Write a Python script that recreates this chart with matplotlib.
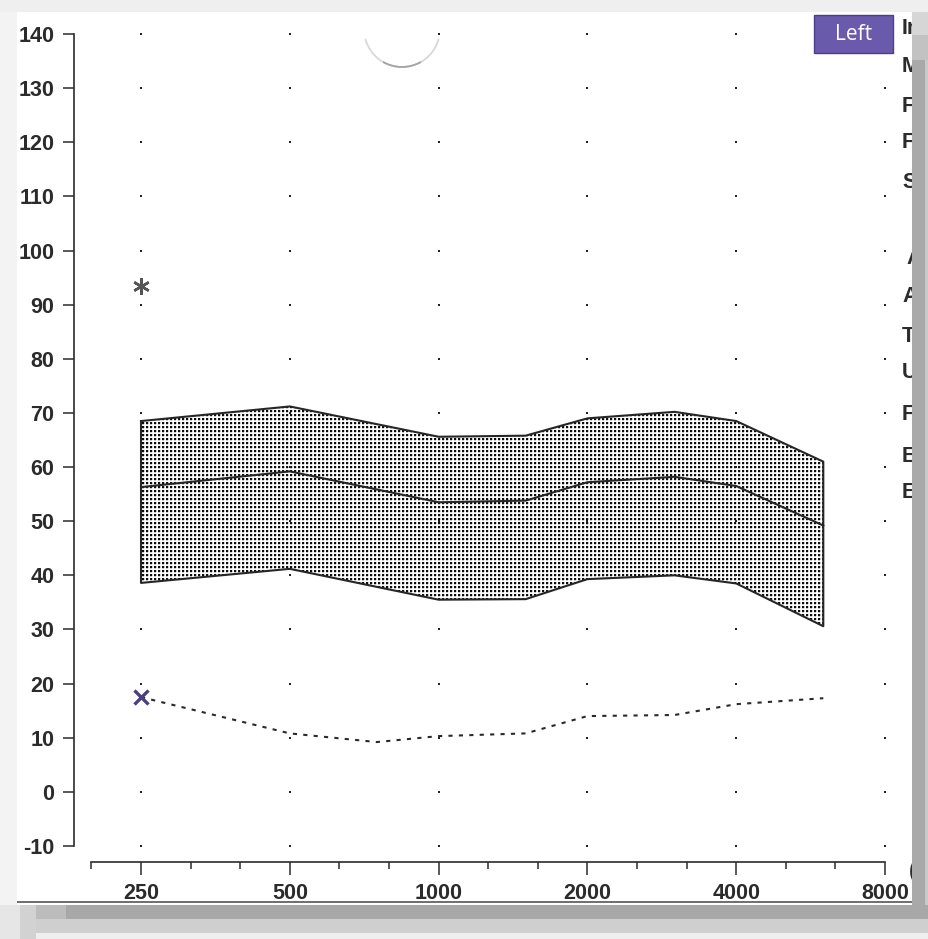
import numpy as np
import matplotlib
matplotlib.use('Agg')
import matplotlib.pyplot as plt
from matplotlib.patches import Rectangle, Arc
from matplotlib.lines import Line2D

# normal range band (dB HL) and mean
band_freqs = np.array([250, 500, 1000, 1500, 2000, 3000, 4000, 6000])
band_upper = np.array([68.5, 71.2, 65.6, 65.8, 69.0, 70.2, 68.5, 61.0])
band_mean = np.array([56.3, 59.2, 53.5, 53.8, 57.2, 58.2, 56.5, 49.2])
band_lower = np.array([38.6, 41.2, 35.5, 35.6, 39.3, 40.0, 38.5, 30.6])

# measured threshold curve
thr_freqs = np.array([250, 500, 750, 1000, 1500, 2000, 3000, 4000, 6000])
thr_db = np.array([17.5, 10.8, 9.2, 10.3, 10.8, 14.0, 14.2, 16.2, 17.3])

ucl_freq = 250
ucl_db = 93.5

octave_freqs = [250, 500, 1000, 2000, 4000, 8000]
db_ticks = list(range(-10, 141, 10))
side_labels = ["In", "M", "F", "F", "S", "A", "A", "T", "U", "F", "E", "E"]
side_label_y = [28, 67, 106, 143, 182, 258, 297, 336, 373, 414, 456, 493]


def octv(f):
    return np.log2(np.asarray(f, dtype=float) / 250.0)


W, H = 929, 939
fig = plt.figure(figsize=(W / 100, H / 100), dpi=100)
fig.patch.set_facecolor('white')
ax = fig.add_axes([74 / W, 1 - 846 / H, (905 - 74) / W, (846 - 34) / H])

ink = '#2b2b2b'
tick_font = dict(family='Liberation Sans', weight='bold', size=15.5, color=ink)

# dotted screen for the normal band
rows = np.arange(812)[:, None] % 4
cols = np.arange(831)[None, :] % 4
pattern = np.ones((812, 831))
pattern[(rows < 2) & (cols < 2)] = 0.05
pattern[((rows == 2) & (cols < 2)) | ((cols == 2) & (rows < 2))] = 0.8

xlim = (-0.4503, 5.134)
ylim = (-10, 140)

xb = octv(band_freqs)
poly = ax.fill_between(xb, band_lower, band_upper, facecolor='none', edgecolor='none')
im = ax.imshow(pattern, extent=(xlim[0], xlim[1], ylim[0], ylim[1]), aspect='auto',
               cmap='gray', vmin=0, vmax=1, interpolation='nearest', zorder=1)
im.set_clip_path(poly.get_paths()[0], transform=ax.transData)

outline_x = np.r_[xb, xb[::-1], xb[0]]
outline_y = np.r_[band_upper, band_lower[::-1], band_upper[0]]
ax.plot(outline_x, outline_y, color='#262626', lw=1.5, zorder=3)
ax.plot(xb, band_mean, color='#262626', lw=1.5, zorder=3)

# grid dots
gx, gy = np.meshgrid(octv(octave_freqs), db_ticks)
ax.plot(gx.ravel(), gy.ravel(), ls='none', marker='s', ms=1.5, mew=0,
        color='#222222', clip_on=False, zorder=2)

ax.plot(octv(thr_freqs), thr_db, color='#2a2a2a', lw=1.5, dashes=(2, 3), zorder=3)
ax.plot(octv(thr_freqs[0]), thr_db[0], ls='none', marker='x', ms=10, mew=2.4,
        color='#4b3f7e', zorder=4)
ax.plot(octv(ucl_freq), ucl_db, ls='none', marker=(6, 2, 0), ms=12, mew=1.8,
        color='#555555', zorder=4)

ax.set_xlim(*xlim)
ax.set_ylim(*ylim)

for side in ('top', 'right'):
    ax.spines[side].set_visible(False)
ax.spines['left'].set_color(ink)
ax.spines['left'].set_linewidth(1.2)
ax.spines['bottom'].set_color(ink)
ax.spines['bottom'].set_linewidth(1.2)
ax.spines['bottom'].set_position(('outward', 11.5))
ax.spines['bottom'].set_bounds(-1 / 3, 5)

ax.set_yticks(db_ticks)
ax.set_yticklabels([str(v) for v in db_ticks], fontdict=tick_font)
ax.set_xticks(octv(octave_freqs))
ax.set_xticklabels([str(f) for f in octave_freqs], fontdict=tick_font)
ax.set_xticks(np.arange(-1, 16) / 3, minor=True)
ax.tick_params(axis='y', length=8, width=1.1, color=ink, pad=6)
ax.tick_params(axis='x', which='major', length=9, width=1.1, color=ink, pad=6)
ax.tick_params(axis='x', which='minor', length=5, width=1.1, color=ink)


def fig_rect(x0, y0, x1, y1, color, z=10):
    fig.add_artist(Rectangle((x0 / 100, (H - y1) / 100), (x1 - x0) / 100, (y1 - y0) / 100,
                             transform=fig.dpi_scale_trans, facecolor=color,
                             edgecolor='none', zorder=z))


# ear label box
fig.add_artist(Rectangle((814 / 100, (H - 53) / 100), 79 / 100, 38 / 100,
                         transform=fig.dpi_scale_trans, facecolor='#6a5aac',
                         edgecolor='#4c3f88', lw=1, zorder=5))
fig.text(853.5 / W, 1 - 34 / H, 'Left', color='white', family='Open Sans',
         fontsize=15, ha='center', va='center', zorder=6)

for lbl, yy in zip(side_labels, side_label_y):
    x0 = 906 if yy == 258 else 902
    fig.text(x0 / W, 1 - yy / H, lbl, ha='left', va='center', **tick_font)
fig.text(909 / W, 1 - 872 / H, '(', ha='left', va='center', **tick_font)

# faint round mark near the top
fig.add_artist(Arc((402 / 100, (H - 29) / 100), 0.76, 0.76, theta1=195, theta2=345,
                   transform=fig.dpi_scale_trans, color='#d8d8d8', lw=1.3, zorder=5))
fig.add_artist(Arc((402 / 100, (H - 29) / 100), 0.76, 0.76, theta1=240, theta2=300,
                   transform=fig.dpi_scale_trans, color='#a4a4a4', lw=1.3, zorder=5))

# page edges and shadow
fig_rect(0, 0, W, 12, '#efefef')
fig_rect(0, 12, 17, 905, '#f3f3f3')
fig.add_artist(Line2D([16 / W, 912 / W], [1 - 902 / H, 1 - 902 / H], color='#555555',
                      lw=1.2, zorder=9))
fig_rect(912, 12, 929, 905, '#a9a9a9')
fig_rect(925, 12, 929, 905, '#c9c9c9')
fig_rect(912, 12, 929, 35, '#d6d6d6')
fig_rect(912, 35, 929, 60, '#c2c2c2')
fig_rect(0, 905, W, 919, '#a8a8a8')
fig_rect(0, 919, W, 933, '#cfcfcf')
fig_rect(0, 933, W, H, '#efefef')
fig_rect(0, 905, 20, H, '#e6e6e6', z=11)
fig_rect(20, 905, 36, H, '#d2d2d2', z=11)
fig_rect(36, 905, 66, 919, '#bcbcbc', z=11)

fig.savefig('out.png', dpi=100)
